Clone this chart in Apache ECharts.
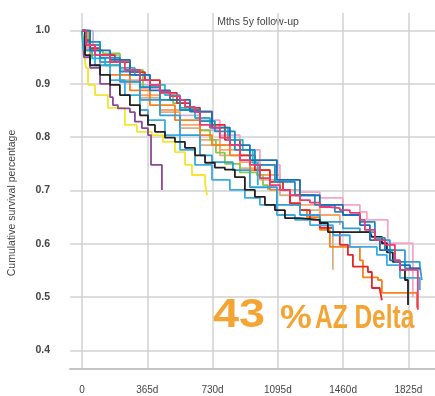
<!DOCTYPE html>
<html><head><meta charset="utf-8">
<script src="https://cdn.jsdelivr.net/npm/echarts@6/dist/echarts.min.js"></script>
<style>html,body{margin:0;padding:0;background:#fff}#c{width:435px;height:396px}</style>
</head><body><div id="c"></div>
<script>
// tick labels
const xTicks = [0, 365, 730, 1095, 1460, 1825];
const yTicks = [0.4, 0.5, 0.6, 0.7, 0.8, 0.9, 1.0];
const titleText = 'Mths 5y follow-up';
const yName = 'Cumulative survival percentage';

// series values: [days, cumulative survival]
const pink = [[0,1],[22,0.973],[73,0.954],[157,0.941],[240,0.926],[324,0.907],[380,0.898],[436,0.885],[492,0.877],[548,0.870],[576,0.857],[632,0.847],[660,0.823],[716,0.818],[771,0.799],[827,0.785],[883,0.757],[939,0.748],[995,0.723],[1051,0.710],[1107,0.701],[1163,0.691],[1219,0.682],[1275,0.677],[1330,0.669],[1386,0.667],[1442,0.663],[1498,0.658],[1554,0.645],[1582,0.626],[1638,0.607],[1694,0.598],[1750,0.569],[1778,0.551],[1878,0.547],[1878,0.476]];
const lightPink = [[0,1],[34,0.963],[101,0.941],[212,0.917],[324,0.892],[436,0.870],[548,0.851],[660,0.832],[771,0.804],[883,0.776],[995,0.748],[1107,0.720],[1219,0.697],[1330,0.686],[1459,0.673],[1554,0.660],[1593,0.645],[1710,0.645],[1710,0.601],[1850,0.601],[1850,0.500]];
const red = [[0,1],[17,0.982],[45,0.967],[101,0.954],[184,0.941],[268,0.922],[352,0.907],[436,0.883],[531,0.864],[604,0.855],[660,0.848],[727,0.823],[799,0.795],[883,0.766],[967,0.738],[1051,0.716],[1124,0.701],[1163,0.676],[1219,0.663],[1275,0.645],[1330,0.630],[1403,0.622],[1442,0.598],[1487,0.579],[1515,0.557],[1599,0.547],[1621,0.517],[1666,0.513],[1677,0.494]];
const green = [[0,1],[34,0.973],[73,0.963],[117,0.957],[157,0.957],[212,0.945],[268,0.926],[341,0.894],[436,0.885],[492,0.879],[509,0.864],[576,0.851],[660,0.813],[716,0.795],[749,0.771],[799,0.750],[883,0.734],[978,0.729],[1012,0.710],[1040,0.701]];
const cyan = [[0,1],[11,0.963],[56,0.948],[129,0.935],[212,0.930],[296,0.917],[380,0.898],[464,0.879],[548,0.855],[632,0.836],[716,0.818],[816,0.795],[899,0.776],[955,0.752],[983,0.752],[983,0.710]];
const blue = [[0,1],[45,0.963],[157,0.945],[268,0.917],[380,0.888],[492,0.870],[604,0.848],[727,0.818],[827,0.785],[939,0.757],[1090,0.720],[1219,0.691],[1330,0.673],[1459,0.654],[1554,0.635],[1610,0.607],[1666,0.588],[1722,0.569],[1778,0.560],[1834,0.554],[1889,0.551]];
const lightBlue = [[0,1],[17,0.963],[73,0.935],[157,0.907],[240,0.879],[324,0.851],[369,0.832],[464,0.804],[548,0.776],[632,0.748],[727,0.720],[827,0.701],[911,0.686],[995,0.673],[1090,0.654],[1191,0.645],[1275,0.635],[1403,0.616],[1498,0.594],[1649,0.579],[1705,0.560],[1778,0.536],[1889,0.536],[1889,0.513]];
const skyBlue = [[0,1],[22,0.973],[101,0.941],[212,0.904],[324,0.870],[436,0.841],[548,0.804],[660,0.766],[727,0.753],[844,0.738],[939,0.706],[1090,0.673],[1219,0.654],[1330,0.641],[1459,0.629],[1554,0.622],[1638,0.607],[1722,0.588],[1806,0.566],[1889,0.560],[1900,0.532]];
const black = [[0,1],[17,0.954],[45,0.935],[101,0.917],[157,0.898],[212,0.879],[268,0.860],[324,0.841],[369,0.823],[408,0.810],[464,0.799],[520,0.791],[576,0.780],[632,0.766],[688,0.752],[743,0.743],[799,0.739],[855,0.725],[911,0.701],[967,0.688],[1023,0.673],[1079,0.663],[1135,0.648],[1219,0.645],[1330,0.639],[1375,0.622],[1610,0.620],[1621,0.613],[1677,0.601],[1705,0.584],[1738,0.566],[1778,0.551],[1806,0.532],[1823,0.494],[1823,0.485]];
const yellow = [[0,1],[11,0.96],[22,0.93],[34,0.898],[73,0.879],[145,0.855],[240,0.823],[307,0.810],[391,0.804],[453,0.791],[520,0.772],[576,0.748],[615,0.729],[688,0.714],[699,0.691]];
const purple = [[0,1],[11,0.95],[45,0.93],[101,0.90],[157,0.875],[173,0.860],[201,0.854],[268,0.847],[296,0.829],[335,0.817],[369,0.804],[386,0.798],[386,0.748],[447,0.748],[447,0.701]];
const lavender = [[0,1],[62,1.0],[62,0.973],[101,0.954],[212,0.926],[324,0.898],[436,0.870],[548,0.841],[660,0.813],[771,0.785],[883,0.757],[939,0.748]];
const orange = [[0,1],[45,0.954],[157,0.917],[268,0.888],[380,0.860],[520,0.832],[660,0.804],[727,0.785],[827,0.766],[939,0.738],[1051,0.701],[1163,0.673],[1219,0.663],[1258,0.650],[1330,0.626],[1386,0.594],[1554,0.569],[1571,0.537],[1655,0.532],[1677,0.508],[1873,0.508],[1873,0.480]];
const salmon = [[0,1],[28,0.963],[101,0.935],[212,0.907],[324,0.879],[436,0.851],[548,0.823],[660,0.795],[771,0.776],[883,0.753],[995,0.729],[1107,0.701],[1219,0.673],[1330,0.654],[1442,0.635]];
const tan = [[0,1],[22,0.967],[101,0.941],[212,0.904],[324,0.874],[436,0.847],[548,0.817],[660,0.785],[771,0.766],[883,0.742],[995,0.720],[1107,0.691],[1219,0.663],[1330,0.630],[1403,0.607],[1403,0.551]];
const teal = [[0,1],[22,0.979],[101,0.949],[212,0.923],[324,0.894],[436,0.870],[548,0.851],[660,0.830],[743,0.811],[855,0.776],[967,0.748],[1079,0.716],[1191,0.691],[1302,0.673],[1414,0.660],[1459,0.654],[1554,0.641],[1638,0.611],[1694,0.588],[1750,0.566],[1806,0.554],[1889,0.554]];

const curves = [
  ['lavender', lavender, '#c3b4dc'],
  ['tan', tan, '#d7b08a'],
  ['salmon', salmon, '#f9a66e'],
  ['lightPink', lightPink, '#f6a5c7'],
  ['yellow', yellow, '#f5e52e'],
  ['purple', purple, '#8b4a97'],
  ['green', green, '#8dc641'],
  ['orange', orange, '#f5811f'],
  ['red', red, '#e3262b'],
  ['lightBlue', lightBlue, '#3aace2'],
  ['skyBlue', skyBlue, '#2e9fd9'],
  ['cyan', cyan, '#20b6cb'],
  ['black', black, '#231f20'],
  ['teal', teal, '#1a8fc0'],
  ['blue', blue, '#1b6fb8'],
  ['pink', pink, '#ec3a76']
];

const chart = echarts.init(document.getElementById('c'), null, {renderer: 'canvas'});
chart.setOption({
  animation: false,
  grid: {left: 70, right: 0, top: 13, bottom: 27, containLabel: false},
  xAxis: {
    type: 'value', min: -67, max: 1974,
    axisLine: {show: true, onZero: false, lineStyle: {color: '#c4c4c4', width: 2}},
    axisTick: {show: false, customValues: xTicks},
    axisLabel: {customValues: xTicks, margin: 16, fontSize: 10, color: '#444', fontFamily: 'Liberation Sans',
      formatter: v => v === 0 ? '0' : v + 'd'},
    splitLine: {show: true, lineStyle: {color: '#d2d2d2', width: 1.5}}
  },
  yAxis: {
    type: 'value', min: 0.365, max: 1.033,
    axisLine: {show: false},
    axisTick: {show: false, customValues: yTicks},
    axisLabel: {customValues: yTicks, margin: 20, fontSize: 10.5, color: '#444', fontWeight: 'bold', fontFamily: 'Liberation Sans',
      formatter: v => v.toFixed(1)},
    splitLine: {show: true, lineStyle: {color: '#d2d2d2', width: 1.5}}
  },
  graphic: [
    {type: 'text', x: 258, y: 22, style: {text: titleText, fontSize: 10.5, fill: '#444', fontFamily: 'Liberation Sans', align: 'center', verticalAlign: 'middle'}},
    {type: 'text', x: 12, y: 203, rotation: Math.PI / 2, style: {text: yName, fontSize: 10.5, fill: '#444', fontFamily: 'Liberation Sans', align: 'center', verticalAlign: 'middle'}},
    {type: 'text', x: 213, y: 336, scaleX: 1.17, style: {text: '43', fontSize: 40, fontWeight: 'bold', fill: '#f4a432', fontFamily: 'Liberation Sans', align: 'left', verticalAlign: 'bottom'}, z: 100},
    {type: 'text', x: 280, y: 336, scaleX: 1.05, style: {text: '%', fontSize: 34, fontWeight: 'bold', fill: '#f4a432', fontFamily: 'Liberation Sans', align: 'left', verticalAlign: 'bottom'}, z: 100},
    {type: 'text', x: 315, y: 336, scaleX: 0.72, style: {text: 'AZ Delta', fontSize: 34, fontWeight: 'bold', fill: '#f4a432', fontFamily: 'Liberation Sans', align: 'left', verticalAlign: 'bottom'}, z: 100}
  ],
  series: curves.map(c => ({
    name: c[0], type: 'line', step: 'end', data: c[1], showSymbol: false, symbol: 'none',
    lineStyle: {color: c[2], width: 1.8}, itemStyle: {color: c[2]}
  }))
});
</script></body></html>
